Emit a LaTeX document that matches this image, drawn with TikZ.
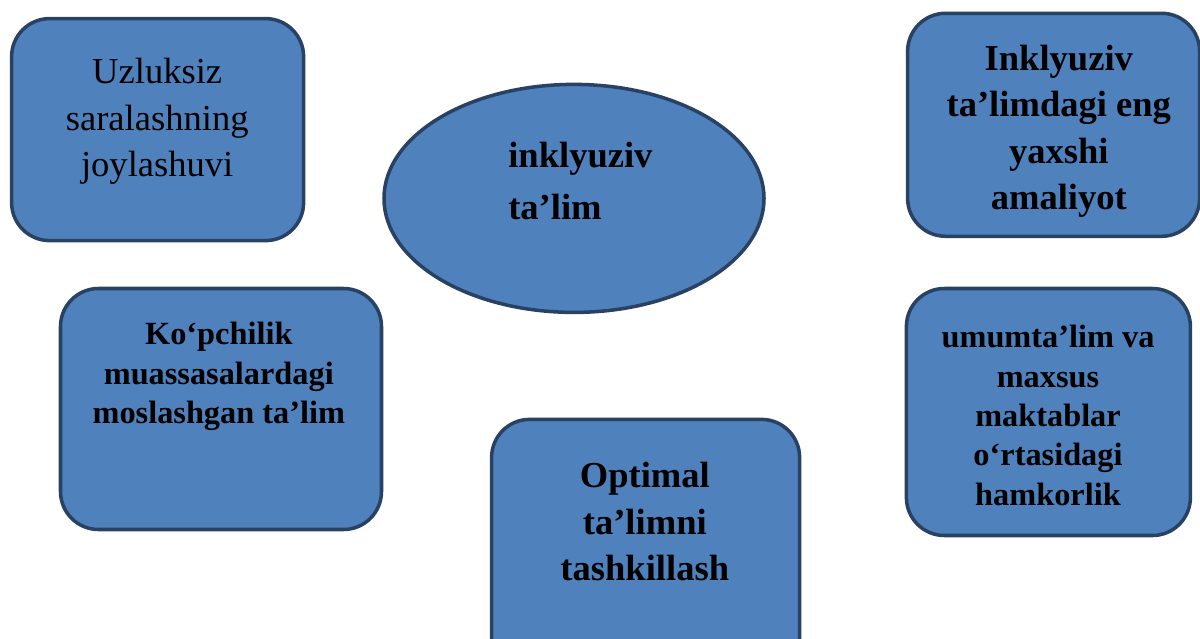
\documentclass[tikz,border=0pt]{standalone}
\usepackage{fontspec}
\setmainfont{Liberation Serif}
\usepackage{tikz}
\usetikzlibrary{shapes.geometric}
\definecolor{kok}{HTML}{4F81BD}
\definecolor{chegara}{HTML}{294264}

\begin{document}
\begin{tikzpicture}[
		blok/.style={draw=chegara, fill=kok, line width=2.5pt, rounded corners=0.95cm, inner sep=0pt},
		oval/.style={ellipse, draw=chegara, fill=kok, line width=2.5pt, inner sep=0pt},
		yozuv/.style={font=\fontsize{26}{33}\selectfont, align=center, inner sep=0pt, anchor=north},
		qalin/.style={font=\fontsize{26}{33}\selectfont\bfseries, align=center, inner sep=0pt, anchor=north},
		mayda/.style={font=\fontsize{23}{28}\selectfont\bfseries, align=center, inner sep=0pt, anchor=north}]
		%\draw [help lines] (0,0) grid (30,16);
		\useasboundingbox (0,0) rectangle (30,15.95);
		% Uzluksiz saralash
		\node [blok, minimum width=7.3cm, minimum height=5.55cm] (uzl) at (3.94,12.71) {};
		\node [yozuv] (uzlt) at (3.93,14.5) {Uzluksiz\\saralashning\\joylashuvi};
		% Markaz
		\node [oval, minimum width=9.5cm, minimum height=5.7cm] (inkl) at (14.35,10.99) {};
		\node [qalin, font=\fontsize{26}{37}\selectfont\bfseries, align=left, anchor=north west] (inklt) at (12.7,12.4) {inklyuziv\\ta’lim};
		% Eng yaxshi amaliyot
		\node [blok, minimum width=7.3cm, minimum height=5.575cm] (amal) at (26.34,12.83) {};
		\node [qalin] (amalt) at (26.47,14.83) {Inklyuziv\\ta’limdagi eng\\yaxshi\\amaliyot};
		% Moslashgan ta'lim
		\node [blok, minimum width=8.025cm, minimum height=6.025cm] (mosl) at (5.525,5.725) {};
		\node [mayda] (moslt) at (5.47,7.9) {Ko‘pchilik\\muassasalardagi\\moslashgan ta’lim};
		% Optimal ta'lim
		\node [blok, minimum width=7.7cm, minimum height=6.51cm] (opt) at (16.14,2.21) {};
		\node [qalin] (optt) at (16.12,4.4) {Optimal\\ta’limni\\tashkillash};
		% Hamkorlik
		\node [blok, minimum width=7.1cm, minimum height=6.175cm] (ham) at (26.21,5.65) {};
		\node [mayda] (hamt) at (26.2,7.825) {umumta’lim va\\maxsus\\maktablar\\o‘rtasidagi\\hamkorlik};
	\end{tikzpicture}
\end{document}
